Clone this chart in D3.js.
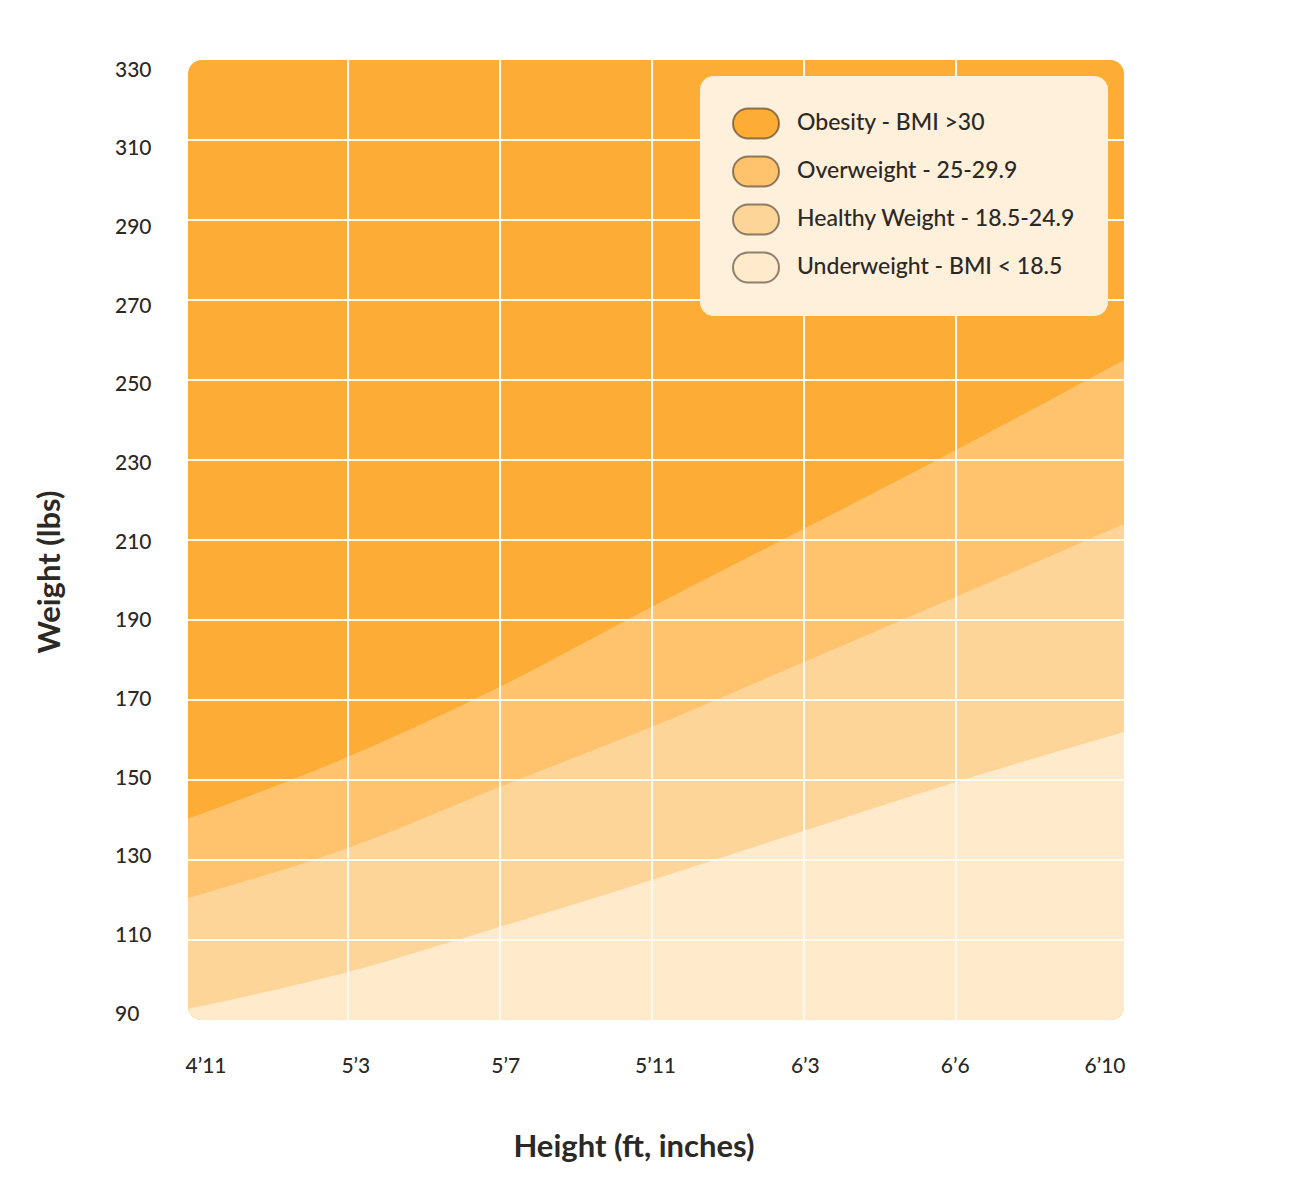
<!DOCTYPE html>
<html>
<head>
<meta charset="utf-8">
<script src="https://cdn.jsdelivr.net/npm/d3@7"></script>
<style>
  body { margin: 0; background: #fff; }
  text { font-family: Lato, "Noto Sans", sans-serif; fill: #2b2926; }
</style>
</head>
<body>
<div id="chart"></div>
<script>
// Height ticks along the bottom
const heightLabels = ['4’11', '5’3', '5’7', '5’11', '6’3', '6’6', '6’10'];
// Weight ticks on the left
const weightTicks = [90, 110, 130, 150, 170, 190, 210, 230, 250, 270, 290, 310, 330];

// Where the band edges were sampled, in tick steps (plot edges + inner grid lines)
const samplePos = [-0.053, 1, 2, 3, 4, 5, 6.105];
// Lower edge (lbs) of each band at those positions
const obesityMin    = [140.3, 155.8, 173.3, 193.3, 212.8, 232.5, 255];
const overweightMin = [120.5, 133, 148.3, 163.3, 179.5, 195.8, 214];
const healthyMin    = [92.8, 102, 113.3, 125, 137.3, 149.5, 162];

const bandNames = ['Obesity - BMI >30', 'Overweight - 25-29.9', 'Healthy Weight - 18.5-24.9', 'Underweight - BMI < 18.5'];
const bandColors = ['#fdad36', '#fec36c', '#fed598', '#ffeacb'];

const width = 1296, height = 1200;
const plot = { left: 188, right: 1124, top: 60, bottom: 1020 };

const svg = d3.select('#chart')
  .append('svg')
  .attr('width', width)
  .attr('height', height);

const x = d3.scaleLinear()
  .domain([samplePos[0], samplePos[samplePos.length - 1]])
  .range([plot.left, plot.right]);

const y = d3.scaleLinear()
  .domain([90, 330])
  .range([plot.bottom, plot.top]);

// tick labels sit on their own evenly spread rows
const yLabel = d3.scaleLinear().domain([90, 330]).range([1012, 68]);
const xLabel = d3.scalePoint().domain(heightLabels).range([206, 1105]);

svg.append('clipPath')
  .attr('id', 'plot-clip')
  .append('rect')
  .attr('x', plot.left)
  .attr('y', plot.top)
  .attr('width', plot.right - plot.left)
  .attr('height', plot.bottom - plot.top)
  .attr('rx', 14);

const g = svg.append('g').attr('clip-path', 'url(#plot-clip)');

// obesity fills everything, lighter bands stack on top from the bottom
g.append('rect')
  .attr('x', plot.left)
  .attr('y', plot.top)
  .attr('width', plot.right - plot.left)
  .attr('height', plot.bottom - plot.top)
  .attr('fill', bandColors[0]);

const area = d3.area()
  .x(d => x(d[0]))
  .y0(y(90))
  .y1(d => y(d[1]))
  .curve(d3.curveMonotoneX);

[obesityMin, overweightMin, healthyMin].forEach((edge, i) => {
  g.append('path')
    .datum(d3.zip(samplePos, edge))
    .attr('d', area)
    .attr('fill', bandColors[i + 1]);
});

// grid
g.selectAll('.hgrid')
  .data(weightTicks.slice(1, -1))
  .enter()
  .append('line')
  .attr('x1', plot.left)
  .attr('x2', plot.right)
  .attr('y1', d => y(d))
  .attr('y2', d => y(d))
  .attr('stroke', '#fffaf0')
  .attr('stroke-width', 2);

g.selectAll('.vgrid')
  .data([1, 2, 3, 4, 5])
  .enter()
  .append('line')
  .attr('x1', d => x(d))
  .attr('x2', d => x(d))
  .attr('y1', plot.top)
  .attr('y2', plot.bottom)
  .attr('stroke', '#fffaf0')
  .attr('stroke-width', 2);

// axis labels
svg.selectAll('.ylab')
  .data(weightTicks)
  .enter()
  .append('text')
  .attr('x', 115)
  .attr('y', d => yLabel(d))
  .attr('dominant-baseline', 'central')
  .attr('font-size', 21)
  .attr('font-weight', 500)
  .text(d => d);

svg.selectAll('.xlab')
  .data(heightLabels)
  .enter()
  .append('text')
  .attr('x', d => xLabel(d))
  .attr('y', 1064)
  .attr('text-anchor', 'middle')
  .attr('dominant-baseline', 'central')
  .attr('font-size', 21)
  .attr('font-weight', 500)
  .text(d => d);

svg.append('text')
  .attr('x', 634)
  .attr('y', 1145)
  .attr('text-anchor', 'middle')
  .attr('dominant-baseline', 'central')
  .attr('font-size', 31)
  .attr('font-weight', 700)
  .attr('fill', '#363432')
  .text('Height (ft, inches)');

svg.append('text')
  .attr('transform', 'translate(48,572) rotate(-90)')
  .attr('text-anchor', 'middle')
  .attr('dominant-baseline', 'central')
  .attr('font-size', 31)
  .attr('font-weight', 700)
  .attr('fill', '#363432')
  .text('Weight (lbs)');

// legend
const legend = svg.append('g');
legend.append('rect')
  .attr('x', 700)
  .attr('y', 76)
  .attr('width', 408)
  .attr('height', 240)
  .attr('rx', 14)
  .attr('fill', '#fff0dc');

const items = legend.selectAll('.item')
  .data(bandNames)
  .enter()
  .append('g')
  .attr('transform', (d, i) => `translate(0,${123.5 + i * 48})`);

items.append('rect')
  .attr('x', 733)
  .attr('y', -15)
  .attr('width', 46)
  .attr('height', 30)
  .attr('rx', 15)
  .attr('fill', (d, i) => bandColors[i])
  .attr('stroke', 'rgba(30,20,10,0.5)')
  .attr('stroke-width', 2);

items.append('text')
  .attr('x', 797)
  .attr('y', -3)
  .attr('dominant-baseline', 'central')
  .attr('font-size', 23)
  .attr('font-weight', 500)
  .text(d => d);
</script>
</body>
</html>
